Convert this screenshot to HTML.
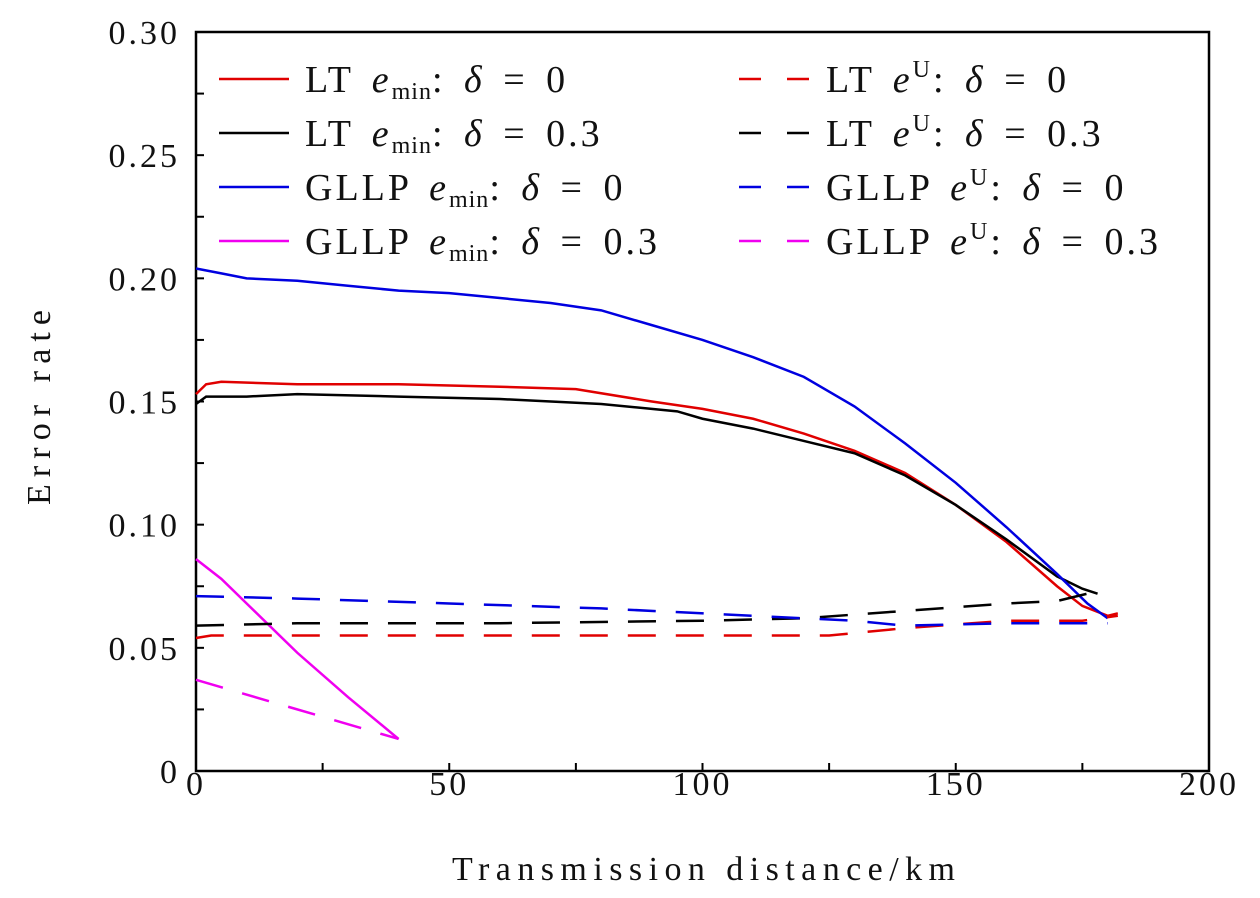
<!DOCTYPE html>
<html><head><meta charset="utf-8"><style>
body{margin:0;background:#fff}
svg{display:block}
text{font-family:"Liberation Serif",serif;fill:#111}
</style></head><body>
<svg id="chart" width="1260" height="898" xmlns="http://www.w3.org/2000/svg">
<g id="grid"></g>
<g id="series"></g>
<g id="legend"></g>
</svg>
<script>
const xTicks=[0,50,100,150,200];
const yTicks=[0,0.05,0.10,0.15,0.20,0.25,0.30];
const yTickLabels=["0","0.05","0.10","0.15","0.20","0.25","0.30"];
const ltMin0X=[0,2,5,20,40,60,75,90,100,110,120,130,140,150,160,170,175,180,182];
const ltMin0Y=[0.153,0.157,0.158,0.157,0.157,0.156,0.155,0.150,0.147,0.143,0.137,0.130,0.121,0.108,0.093,0.075,0.067,0.063,0.064];
const ltMin3X=[0,2,10,20,40,60,80,95,100,110,120,130,140,150,160,170,175,178];
const ltMin3Y=[0.149,0.152,0.152,0.153,0.152,0.151,0.149,0.146,0.143,0.139,0.134,0.129,0.120,0.108,0.094,0.079,0.074,0.072];
const glMin0X=[0,5,10,20,30,40,50,60,70,80,90,100,110,120,130,140,150,160,170,176,180];
const glMin0Y=[0.204,0.202,0.200,0.199,0.197,0.195,0.194,0.192,0.190,0.187,0.181,0.175,0.168,0.160,0.148,0.133,0.117,0.099,0.080,0.068,0.062];
const glMin3X=[0,5,10,20,30,40];
const glMin3Y=[0.086,0.078,0.068,0.048,0.030,0.013];
const ltU0X=[0,3,50,110,125,140,160,175,182];
const ltU0Y=[0.054,0.055,0.055,0.055,0.055,0.058,0.061,0.061,0.063];
const ltU3X=[0,20,60,100,120,140,160,170,178];
const ltU3Y=[0.059,0.060,0.060,0.061,0.062,0.065,0.068,0.069,0.073];
const glU0X=[0,20,50,80,110,130,140,160,180];
const glU0Y=[0.071,0.070,0.068,0.066,0.063,0.061,0.059,0.060,0.060];
const glU3X=[0,40];
const glU3Y=[0.037,0.013];

const X0=196,X1=1209,Y0=771,Y1=32;
const sx=v=>X0+(v-0)/(200-0)*(X1-X0);
const sy=v=>Y0-(v-0)/(0.30-0)*(Y0-Y1);
const NS="http://www.w3.org/2000/svg";
function mk(tag,attrs,parent){const e=document.createElementNS(NS,tag);for(const k in attrs)e.setAttribute(k,attrs[k]);parent.appendChild(e);return e;}
const grid=document.getElementById('grid'),ser=document.getElementById('series'),leg=document.getElementById('legend');

const frame=mk('rect',{x:X0,y:Y1,width:X1-X0,height:Y0-Y1,fill:'none',stroke:'#000','stroke-width':2.5},grid);


yTicks.forEach((v,i)=>{
  const t=mk('text',{x:180,y:sy(v)+12,'text-anchor':'end','font-size':34,'letter-spacing':3},grid);t.textContent=yTickLabels[i];
  
  
  mk('line',{x1:X0,x2:X0+8,y1:sy(v),y2:sy(v),stroke:'#000','stroke-width':2},grid);
  if(i<yTicks.length-1){const m=(v+yTicks[i+1])/2;mk('line',{x1:X0,x2:X0+8,y1:sy(m),y2:sy(m),stroke:'#000','stroke-width':2},grid);}
});
xTicks.forEach((v,i)=>{
  const t=mk('text',{x:sx(v),y:795,'text-anchor':'middle','font-size':34,'letter-spacing':3},grid);t.textContent=String(v);
  
  
  mk('line',{x1:sx(v),x2:sx(v),y1:Y0,y2:Y0-8,stroke:'#000','stroke-width':2},grid);
  if(i<xTicks.length-1){const m=(v+xTicks[i+1])/2;mk('line',{x1:sx(m),x2:sx(m),y1:Y0,y2:Y0-8,stroke:'#000','stroke-width':2},grid);}
});
const xt=mk('text',{x:452,y:880,'font-size':34,textLength:503,lengthAdjust:'spacing'},grid);xt.textContent='Transmission distance/km';


const yt=mk('text',{x:-505,y:50,'font-size':34,textLength:195,lengthAdjust:'spacing',transform:'rotate(-90)'},grid);yt.textContent='Error rate';



const series=[
 {n:'lt-emin-delta0',xs:ltMin0X,ys:ltMin0Y,c:'#e00000',d:false},
 {n:'lt-emin-delta03',xs:ltMin3X,ys:ltMin3Y,c:'#000',d:false},
 {n:'gllp-emin-delta0',xs:glMin0X,ys:glMin0Y,c:'#0000e0',d:false},
 {n:'gllp-emin-delta03',xs:glMin3X,ys:glMin3Y,c:'#f000f0',d:false},
 {n:'lt-eu-delta0',xs:ltU0X,ys:ltU0Y,c:'#e00000',d:true},
 {n:'lt-eu-delta03',xs:ltU3X,ys:ltU3Y,c:'#000',d:true},
 {n:'gllp-eu-delta0',xs:glU0X,ys:glU0Y,c:'#0000e0',d:true},
 {n:'gllp-eu-delta03',xs:glU3X,ys:glU3Y,c:'#f000f0',d:true}];
series.forEach(s=>{
  const p=mk('polyline',{points:s.xs.map((x,i)=>sx(x)+','+sy(s.ys[i])).join(' '),fill:'none',stroke:s.c,'stroke-width':2.5,'stroke-dasharray':s.d?'28 20':'none'},ser);
  
  
});
const labels=[['LT','0'],['LT','0.3'],['GLLP','0'],['GLLP','0.3']];
series.forEach((s,i)=>{
  const col=i<4?0:1,row=i%4;
  const lx=col?739:219,tx=col?826:305,y=79+row*54;
  const g=mk('g',{},leg);
  
  
  mk('line',{x1:lx,x2:lx+70,y1:y,y2:y,stroke:s.c,'stroke-width':2.5,'stroke-dasharray':s.d?'22 26':'none'},g);
  const t=mk('text',{x:tx,y:y+13,'font-size':38,'letter-spacing':3,'word-spacing':6},g);
  const L=labels[row];
  t.innerHTML=L[0]+' <tspan font-style="italic">e</tspan>'+(col?'<tspan font-size="24" dy="-15">U</tspan><tspan dy="15">: </tspan>':'<tspan font-size="24" letter-spacing="1" dy="7">min</tspan><tspan dy="-7">: </tspan>')+'<tspan font-style="italic">δ</tspan> = '+L[1];
});
</script>
</body></html>
